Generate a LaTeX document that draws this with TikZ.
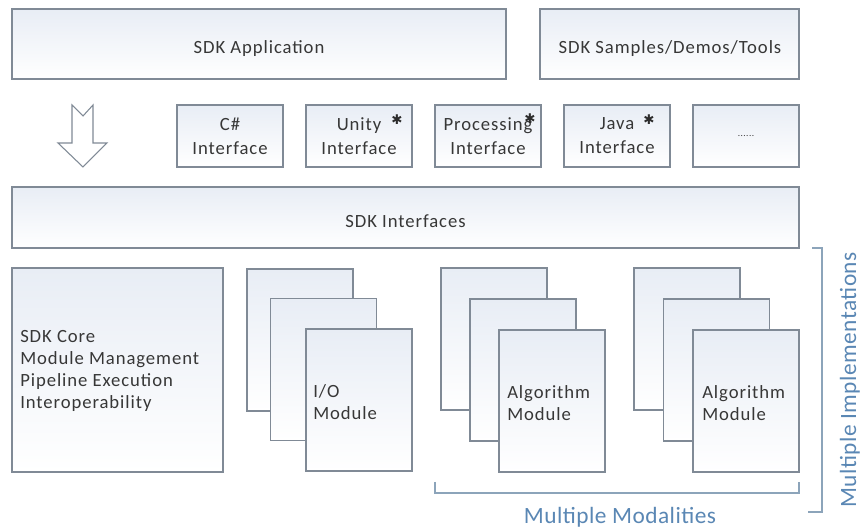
\documentclass[tikz,border=0pt]{standalone}
\usepackage{fontspec}
\setmainfont{Carlito}[LetterSpace=5]
\newfontfamily\bluefont{Carlito}[LetterSpace=2]
\newfontfamily\symfont{DejaVu Sans}
\usetikzlibrary{shapes.geometric}
\definecolor{boxline}{RGB}{128,138,150}
\definecolor{boxtop}{RGB}{232,237,245}
\definecolor{txt}{RGB}{55,55,55}
\definecolor{brk}{RGB}{140,164,186}
\definecolor{blu}{RGB}{90,135,180}
\tikzset{
  box/.style={draw=boxline, line width=0.9pt, top color=boxtop, bottom color=white,
    inner sep=0pt, outer sep=0pt, text=txt, font=\fontsize{14}{16}\selectfont},
  lbl/.style={text=txt, font=\fontsize{14}{16.5}\selectfont, align=left, inner sep=0pt},
  ifbox/.style={box, align=center, font=\fontsize{14}{18}\selectfont,
    minimum width=106*0.75pt, minimum height=62*0.75pt},
  modbox/.style={box, minimum width=106*0.75pt, minimum height=142*0.75pt},
  bracket/.style={draw=brk, line width=0.9pt},
  bluetext/.style={text=blu, font=\bluefont\fontsize{17.5}{20}\selectfont, inner sep=0pt},
  starmark/.style={text=txt!80!black, font=\symfont\fontsize{10}{10}\selectfont, inner sep=0pt}
}
\begin{document}
\begin{tikzpicture}[x=0.75pt, y=-0.75pt]
\useasboundingbox[fill=white] (0,0) rectangle (861,530);
% top row
\node[box, minimum width=494*0.75pt, minimum height=70*0.75pt] (app) at (259,44) {};
\node[lbl] (applbl) at (259,49) {SDK Application};
\node[box, minimum width=259*0.75pt, minimum height=70*0.75pt] (samples) at (669.5,44) {};
\node[lbl] (samplbl) at (670,49) {SDK Samples/Demos/Tools};
% arrow
\draw[draw=boxline, line width=0.8pt, fill=white, line join=miter]
  (72,105) -- (83,116) -- (93,105) -- (93,143) -- (107,143) -- (83,167) -- (58,143) -- (72,143) -- cycle;
% interfaces
\node[ifbox] (cs) at (230,136) {C\#\\Interface};
\node[ifbox] (unity) at (359,136) {Unity\hspace{1.5em}\\Interface};
\node[starmark] (unitystar) at (397,120) {✱};
\node[ifbox] (proc) at (488,136) {Processing\\Interface};
\node[starmark] (procstar) at (530,119) {✱};
\node[ifbox] (java) at (617,136) {Java\hspace{2.2em}\\Interface};
\node[starmark] (javastar) at (649,120) {✱};
\node[ifbox] (dots) at (746,136) {\fontsize{7}{8}\selectfont ......};
\node[box, minimum width=787*0.75pt, minimum height=61*0.75pt] (ifaces) at (405.5,217.5) {};
\node[lbl] (ifaceslbl) at (405.5,221) {SDK Interfaces};
% core
\node[box, minimum width=211*0.75pt, minimum height=204*0.75pt] (core) at (117.5,370) {};
\node[lbl, anchor=west] (corelbl) at (20,371) {SDK Core\\Module Management\\Pipeline Execution\\Interoperability};
% IO stack
\node[modbox] (io1) at (300,340) {};
\node[modbox] (io2) at (323.5,369.5) {};
\node[modbox] (io3) at (359,400) {};
\node[lbl, anchor=west] (iolbl) at (313,402) {I/O\\Module};
% algorithm stack 1
\node[modbox] (a11) at (494,339) {};
\node[modbox] (a12) at (523,370) {};
\node[modbox] (a13) at (552,401) {};
\node[lbl, anchor=west] (a1lbl) at (507,403) {Algorithm\\Module};
% algorithm stack 2
\node[modbox] (a21) at (687,339) {};
\node[modbox] (a22) at (716.5,370) {};
\node[modbox] (a23) at (746,401) {};
\node[lbl, anchor=west] (a2lbl) at (702,403) {Algorithm\\Module};
% brackets
\coordinate (b1) at (435,482);
\coordinate (b2) at (435,493);
\coordinate (b3) at (799,493);
\coordinate (b4) at (799,482);
\draw[bracket] (b1) -- (b2) -- (b3) -- (b4);
\coordinate (r1) at (812,248);
\coordinate (r2) at (822,248);
\coordinate (r3) at (822,512);
\coordinate (r4) at (808,512);
\draw[bracket] (r1) -- (r2) -- (r3) -- (r4);
\node[bluetext] (mm) at (620,517) {Multiple Modalities};
\node[bluetext, rotate=90] (mi) at (850,380) {Multiple Implementations};
\end{tikzpicture}
\end{document}
